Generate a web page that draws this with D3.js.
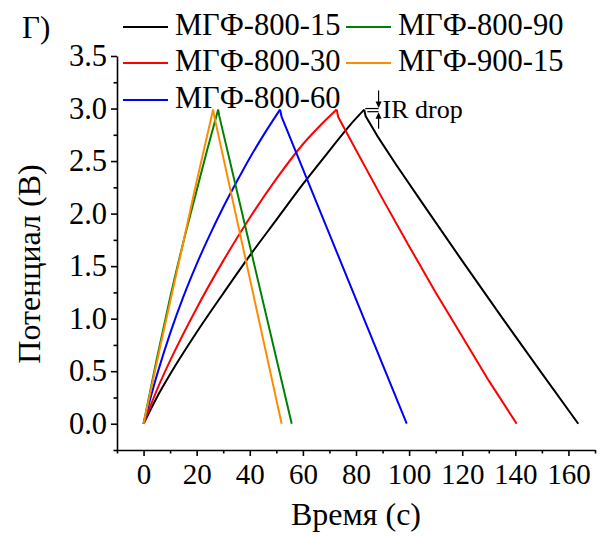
<!DOCTYPE html>
<html><head><meta charset="utf-8">
<script src="https://cdn.jsdelivr.net/npm/d3@7"></script>
<style>body{margin:0;background:#fff} svg{display:block}</style>
</head><body><svg id="c" width="610" height="536"></svg>
<script>
// ---- data ----
const seriesNames = ["МГФ-800-15", "МГФ-800-30", "МГФ-800-60", "МГФ-800-90", "МГФ-900-15"];
const seriesColors = ["#000000", "#ff0000", "#0000ff", "#008000", "#ff8c00"];
// time (s), potential (V): charge branch then discharge branch
const mgf800_15 = [[0,0],[5,0.25],[10,0.47],[20,0.87],[30,1.24],[40,1.6],[50,1.94],[60,2.28],[70,2.6],[78,2.85],[83.1,2.99],
  [83.6,2.93],[88,2.74],[95,2.47],[105,2.1],[120,1.55],[135,1.01],[150,0.48],[163.7,0]];
const mgf800_30 = [[0,0],[5,0.32],[10,0.6],[20,1.1],[30,1.55],[40,1.96],[50,2.33],[60,2.66],[67,2.85],[72.7,2.99],
  [73.3,2.92],[80,2.605],[90,2.14],[100,1.69],[110,1.25],[120,0.83],[130,0.41],[140.5,0]];
const mgf800_60 = [[0,0],[5,0.46],[10,0.86],[15,1.21],[20,1.52],[25,1.8],[30,2.06],[35,2.3],[40,2.53],[45,2.74],[51.4,2.99],
  [52,2.92],[99.1,0]];
const mgf800_90 = [[0,0],[5,0.62],[10,1.2],[15,1.73],[20,2.22],[24,2.61],[28.1,2.99],
  [28.5,2.93],[55.8,0]];
const mgf900_15 = [[0,0],[6.5,0.76],[13,1.5],[19.5,2.25],[26.2,2.99],
  [26.6,2.93],[52,0]];
const seriesData = [mgf800_15, mgf800_30, mgf800_60, mgf800_90, mgf900_15];
const xTicks = [0,20,40,60,80,100,120,140,160];
const xMinor = [-10,10,30,50,70,90,110,130,150,170];
const yTicks = [0,0.5,1,1.5,2,2.5,3,3.5];
const yMinor = [-0.25,0.25,0.75,1.25,1.75,2.25,2.75,3.25];
const irDrop = {t0: 83.5, t1: 88.5, vTop: 3.0, vBottom: 2.97};

// ---- drawing ----
const svg = d3.select("#c");
const FONT = "'Liberation Serif','Times New Roman',serif";
const x = d3.scaleLinear().domain([-10,170]).range([117,595]);
const y = d3.scaleLinear().domain([-0.25,3.5]).range([450,56]);

function axisStyle(g, fs){
  g.selectAll("path.domain").attr("stroke","#000").attr("stroke-width",1.6);
  g.selectAll(".tick line").attr("stroke","#000").attr("stroke-width",1.6);
  g.selectAll(".tick text").attr("fill","#000").style("font-family",FONT).style("font-size",fs+"px");
}
const gx = svg.append("g").attr("transform","translate(0,450)")
  .call(d3.axisBottom(x).tickValues(xTicks).tickSize(6).tickSizeOuter(0).tickPadding(7).tickFormat(d3.format("d")));
axisStyle(gx, 29);
const gxm = svg.append("g").attr("transform","translate(0,450)")
  .call(d3.axisBottom(x).tickValues(xMinor).tickSize(3.5).tickFormat(""));
gxm.select("path.domain").remove(); axisStyle(gxm, 29);

const gy = svg.append("g").attr("transform","translate(117,0)")
  .call(d3.axisLeft(y).tickValues(yTicks).tickSize(6).tickSizeOuter(0).tickPadding(4).tickFormat(d3.format(".1f")));
axisStyle(gy, 30.5);
const gym = svg.append("g").attr("transform","translate(117,0)")
  .call(d3.axisLeft(y).tickValues(yMinor).tickSize(3.5).tickFormat(""));
gym.select("path.domain").remove(); axisStyle(gym, 30);

// lines: smooth charge branch, straight-segment discharge branch, sharp peak
const lineCharge = d3.line().x(d=>x(d[0])).y(d=>y(d[1])).curve(d3.curveMonotoneX);
const lineDis = d3.line().x(d=>x(d[0])).y(d=>y(d[1]));
seriesData.forEach((s,i)=>{
  const pk = d3.maxIndex(s, d=>d[1]);
  svg.append("path").datum(s.slice(0,pk+1)).attr("d",lineCharge).attr("fill","none")
    .attr("stroke",seriesColors[i]).attr("stroke-width",2);
  svg.append("path").datum(s.slice(pk)).attr("d",lineDis).attr("fill","none")
    .attr("stroke",seriesColors[i]).attr("stroke-width",2).attr("stroke-linejoin","round");
});

// IR drop annotation
const ann = svg.append("g").attr("stroke","#000").attr("stroke-width",1.2);
ann.append("line").attr("x1",x(irDrop.t0)).attr("x2",x(irDrop.t1)).attr("y1",y(irDrop.vTop)).attr("y2",y(irDrop.vTop));
ann.append("line").attr("x1",x(irDrop.t0)+2).attr("x2",x(irDrop.t1)).attr("y1",y(irDrop.vBottom)).attr("y2",y(irDrop.vBottom));
const ax = x(irDrop.t1);
ann.append("line").attr("x1",ax).attr("x2",ax).attr("y1",y(irDrop.vTop)-18).attr("y2",y(irDrop.vTop)-2);
ann.append("line").attr("x1",ax).attr("x2",ax).attr("y1",y(irDrop.vBottom)+17).attr("y2",y(irDrop.vBottom)+2);
svg.append("path").attr("d",`M${ax-3},${y(irDrop.vTop)-7}L${ax+3},${y(irDrop.vTop)-7}L${ax},${y(irDrop.vTop)-0.5}Z`).attr("fill","#000");
svg.append("path").attr("d",`M${ax-3},${y(irDrop.vBottom)+7}L${ax+3},${y(irDrop.vBottom)+7}L${ax},${y(irDrop.vBottom)+0.5}Z`).attr("fill","#000");
svg.append("text").attr("x",ax+4).attr("y",118).text("IR drop")
  .style("font-family",FONT).style("font-size","26px").attr("fill","#000");

// legend
const legPos = [[123,27],[123,63],[123,100],[346,27],[346,63]];
seriesNames.forEach((n,i)=>{
  const [lx,ly] = legPos[i];
  svg.append("line").attr("x1",lx).attr("x2",lx+45).attr("y1",ly).attr("y2",ly)
    .attr("stroke",seriesColors[i]).attr("stroke-width",2);
  svg.append("text").attr("x",lx+52).attr("y",ly+7.5).text(n)
    .style("font-family",FONT).style("font-size","30.5px").attr("fill","#000");
});

// titles
svg.append("text").attr("x",22).attr("y",38).text("Г)")
  .style("font-family",FONT).style("font-size","31px").attr("fill","#000");
svg.append("text").attr("x",356).attr("y",525).attr("text-anchor","middle").text("Время (с)")
  .style("font-family",FONT).style("font-size","32px").attr("fill","#000");
svg.append("text").attr("transform","translate(40,264) rotate(-90)").attr("text-anchor","middle").text("Потенциал (В)")
  .style("font-family",FONT).style("font-size","32px").attr("fill","#000");
</script></body></html>
